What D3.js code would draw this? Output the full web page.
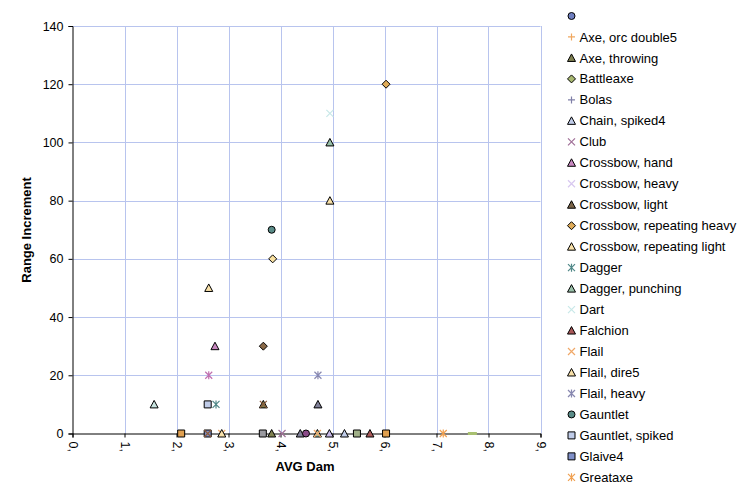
<!DOCTYPE html>
<html>
<head>
<meta charset="utf-8">
<script src="https://cdn.jsdelivr.net/npm/d3@7"></script>
<style>
  body { margin: 0; background: #fff; }
  svg { display: block; font-family: "Liberation Sans", Arial, sans-serif; }
</style>
</head>
<body>
<div id="chart"></div>
<script>
// legend is truncated after Greataxe, the rest are only plotted
const seriesNames = [
  "", "Axe, orc double5", "Axe, throwing", "Battleaxe", "Bolas", "Chain, spiked4",
  "Club", "Crossbow, hand", "Crossbow, heavy", "Crossbow, light",
  "Crossbow, repeating heavy", "Crossbow, repeating light", "Dagger",
  "Dagger, punching", "Dart", "Falchion", "Flail", "Flail, dire5", "Flail, heavy",
  "Gauntlet", "Gauntlet, spiked", "Glaive4", "Greataxe",
  "Greatclub", "Greatsword", "Guisarme", "Halberd", "Hammer, light", "Handaxe",
  "Javelin", "Kama", "Kukri", "Lance", "Longbow", "Longsword"
];
const legendCount = 23;

const seriesShapes = [
  "circle", "plus", "triangle", "diamond", "plus", "triangle",
  "x", "triangle", "x", "triangle",
  "diamond", "triangle", "asterisk",
  "triangle", "x", "triangle", "x", "triangle", "asterisk",
  "circle", "square", "square", "asterisk",
  "diamond", "diamond", "asterisk", "triangle", "triangle", "square",
  "square", "circle", "triangle", "square", "dash", "x"
];
const seriesColors = [
  "#6f7fc0", "#f0a860", "#7f8050", "#a8b870", "#8080a8", "#c0cce8",
  "#a07098", "#c888c0", "#d8c8f0", "#7a6448",
  "#e0ac58", "#f8e0a8", "#508888",
  "#98c0a8", "#c8e8e8", "#a85858", "#f0a868", "#f8e0a8", "#8888b0",
  "#5a8c88", "#c0cce8", "#8090c8", "#f0a050",
  "#f8e0a0", "#8a6a48", "#c070b0", "#c8e4e0", "#808098", "#e0a050",
  "#9a9aa0", "#8a4a88", "#c8b8e8", "#a0b088", "#a8c070", "#8a5a3a"
];

// points: series index, AVG Dam, Range Increment
const pointSeries = [
  2, 2, 5, 6, 7, 10, 11, 12, 13, 13, 14, 15, 16, 16, 17, 17, 18, 19, 20, 21, 22,
  23, 24, 25, 26, 27, 27, 28, 28, 29, 30, 31, 32, 33, 34, 34
];
const pointDam = [
  3.67, 3.83, 5.23, 4.03, 2.74, 6.03, 4.95, 2.76, 4.95, 4.71, 4.95, 5.72, 2.87, 4.71, 2.62, 2.87, 4.72, 3.83, 2.60, 2.60, 7.13,
  3.85, 3.67, 2.62, 1.57, 4.72, 4.38, 2.09, 6.03, 3.66, 4.49, 4.94, 5.47, 7.69, 2.60, 3.67
];
const pointRange = [
  10, 0, 0, 0, 30, 120, 80, 10, 100, 0, 110, 0, 0, 0, 50, 0, 20, 70, 10, 0, 0,
  60, 30, 20, 10, 10, 0, 0, 0, 0, 0, 0, 0, 0, 0, 10
];

const xTicks = [0, 1, 2, 3, 4, 5, 6, 7, 8, 9];
const xTickLabels = ["0,", "1,", "2,", "3,", "4,", "5,", "6,", "7,", "8,", "9,"];
const yTicks = [0, 20, 40, 60, 80, 100, 120, 140];

const width = 747, height = 498;
const plot = { left: 72.5, right: 540.5, top: 26, bottom: 433.5 };

const svg = d3.select("#chart").append("svg")
  .attr("width", width)
  .attr("height", height);

const x = d3.scaleLinear().domain([0, 9]).range([plot.left, plot.right]);
const y = d3.scaleLinear().domain([0, 140]).range([plot.bottom, plot.top]);

function markerPath(shape, r) {
  switch (shape) {
    case "circle": return d3.symbol(d3.symbolCircle, Math.PI * r * r)();
    case "square": return `M${-r},${-r}H${r}V${r}H${-r}Z`;
    case "diamond": return `M0,${-r - 0.5}L${r + 0.5},0L0,${r + 0.5}L${-r - 0.5},0Z`;
    case "triangle": return `M0,${-r - 0.5}L${r + 0.5},${r}L${-r - 0.5},${r}Z`;
    case "x": return `M${-r},${-r}L${r},${r}M${r},${-r}L${-r},${r}`;
    case "plus": return `M${-r},0H${r}M0,${-r}V${r}`;
    case "asterisk": return `M${-r},${-r}L${r},${r}M${r},${-r}L${-r},${r}M0,${-r - 0.5}V${r + 0.5}`;
    case "dash": return `M${-r - 1},0H${r + 1}`;
  }
}
const filled = new Set(["circle", "square", "diamond", "triangle"]);

function drawMarker(g, shape, color) {
  const isFilled = filled.has(shape);
  g.append("path")
    .attr("d", markerPath(shape, 3.5))
    .attr("fill", isFilled ? color : "none")
    .attr("stroke", isFilled ? "#000" : color)
    .attr("stroke-width", shape === "dash" ? 3 : (isFilled ? 1 : 1.2));
}

// gridlines
svg.append("g")
  .selectAll("line.h")
  .data(yTicks.filter((d) => d > 0))
  .join("line")
  .attr("x1", plot.left).attr("x2", plot.right)
  .attr("y1", (d) => Math.round(y(d)) + 0.5).attr("y2", (d) => Math.round(y(d)) + 0.5)
  .attr("stroke", "#b8c4ee");

svg.append("g")
  .selectAll("line.v")
  .data(xTicks.filter((d) => d > 0))
  .join("line")
  .attr("x1", (d) => Math.round(x(d)) + 0.5).attr("x2", (d) => Math.round(x(d)) + 0.5)
  .attr("y1", plot.top).attr("y2", plot.bottom)
  .attr("stroke", "#b8c4ee");

// axes
const yAxis = svg.append("g")
  .attr("transform", `translate(${plot.left},0)`)
  .call(d3.axisLeft(y).tickValues(yTicks).tickSize(4).tickPadding(5).tickFormat(d3.format("d")));
const xAxis = svg.append("g")
  .attr("transform", `translate(0,${plot.bottom})`)
  .call(d3.axisBottom(x).tickValues(xTicks).tickSize(4).tickFormat((d, i) => xTickLabels[i]));

[yAxis, xAxis].forEach((a) => {
  a.select(".domain").attr("stroke", "#000");
  a.selectAll(".tick line").attr("stroke", "#000");
  a.selectAll("text").attr("font-size", 12.5).attr("fill", "#000")
    .attr("font-family", "\"Liberation Sans\", Arial, sans-serif");
});
xAxis.selectAll(".tick text")
  .attr("transform", "rotate(90)")
  .attr("text-anchor", "start")
  .attr("x", 8)
  .attr("y", 0)
  .attr("dy", "0.35em");

// points
const points = pointSeries.map((s, i) => ({ s, dam: pointDam[i], range: pointRange[i] }));
svg.append("g")
  .selectAll("g")
  .data(points)
  .join("g")
  .attr("transform", (d) => `translate(${x(d.dam)},${y(d.range)})`)
  .each(function (d) { drawMarker(d3.select(this), seriesShapes[d.s], seriesColors[d.s]); });

// axis titles
svg.append("text")
  .attr("x", 305).attr("y", 471)
  .attr("text-anchor", "middle")
  .attr("font-size", 13).attr("font-weight", 700)
  .text("AVG Dam");

svg.append("text")
  .attr("transform", "translate(31,230) rotate(-90)")
  .attr("text-anchor", "middle")
  .attr("font-size", 13).attr("font-weight", 700)
  .text("Range Increment");

// legend
const legend = svg.append("g")
  .selectAll("g")
  .data(seriesNames.slice(0, legendCount))
  .join("g")
  .attr("transform", (d, i) => `translate(571.5,${16 + i * 20.97})`);

legend.each(function (d, i) { drawMarker(d3.select(this), seriesShapes[i], seriesColors[i]); });
legend.append("text")
  .attr("x", 8)
  .attr("dy", "0.35em")
  .attr("font-size", 13)
  .text((d) => d);
</script>
</body>
</html>
